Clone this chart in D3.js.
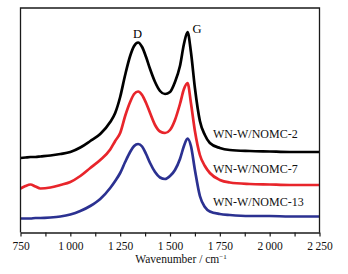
<!DOCTYPE html>
<html><head><meta charset="utf-8">
<script src="https://cdn.jsdelivr.net/npm/d3@7/dist/d3.min.js"></script>
<style>body{margin:0;background:#fff;}svg{display:block;}</style>
</head><body><svg id="c" width="348" height="274"></svg>
<script>
const wavenumbers = [750,775,800,825,850,900,950,1000,1050,1100,1150,1200,1225,1250,1275,1300,1320,1340,1360,1380,1400,1425,1450,1475,1500,1525,1550,1570,1588,1605,1625,1650,1675,1700,1750,1800,1900,2000,2100,2250];
const nomc2 = [74.5,75,75.5,75.5,76,77,78.5,80.5,85,91.5,98.5,110.5,119.5,135.5,157.5,176.5,186.5,190,185.5,175.5,163.5,150.5,141.5,138.5,140.5,150.5,166.5,188.5,200.5,180.5,144.5,111.5,97.5,89.5,84.5,82.5,81.5,81,80.5,80.5];
const nomc7 = [44,46.5,48,46,44,45,47.5,50.5,56.5,64.5,72.5,83,91.5,99.5,116.5,130.5,138.5,141,137.5,129.5,119.5,107.5,101,99.5,102.5,112.5,128.5,143.5,149.5,129.5,101.5,77.5,66.5,59.5,52.5,50,48.5,48,47.5,47.5];
const nomc13 = [14,14,14,14.5,14.5,15,16,18,21.5,26.5,33.5,44.5,51.5,59.5,70.5,80.5,86.5,88.5,86,78.5,69.5,60.5,55,53.5,56.5,62.5,73.5,86.5,94,86.5,62.5,36.5,25.5,21,18.5,17.5,16.5,16.5,16,16];
const seriesNames = ["WN-W/NOMC-2","WN-W/NOMC-7","WN-W/NOMC-13"];
const seriesColors = ["#000000","#e8252b","#2b3191"];
const majorTicks = [750,1000,1250,1500,1750,2000,2250];
const minorTicks = [875,1125,1375,1625,1875,2125];
const labelValues = [95, 60, 26.5];

const svg = d3.select("#c");
const L=20.5, R=319.5, T=8, B=232.5;
const x = d3.scaleLinear().domain([750,2250]).range([L,R]);
const y = d3.scaleLinear().domain([0,224.5]).range([B,T]);
const font = "'Liberation Serif','Times New Roman',serif";

const seriesData = [nomc2, nomc7, nomc13];
const line = d3.line().x((d,i)=>x(wavenumbers[i])).y(d=>y(d)).curve(d3.curveMonotoneX);
seriesData.forEach((s,k)=>{
  svg.append("path").attr("d", line(s)).attr("fill","none")
    .attr("stroke", seriesColors[k]).attr("stroke-width",2.7).attr("stroke-linejoin","round");
});

// frame
svg.append("path").attr("d",`M${L},${B}V${T}H${R}V${B}`).attr("fill","none").attr("stroke","#1a1a1a").attr("stroke-width",1.3);

// bottom axis
const ax = d3.axisBottom(x).tickValues(majorTicks).tickSize(4).tickSizeOuter(0)
  .tickFormat(d=>{const s=String(d); return s.length>3? s.slice(0,s.length-3)+"\u2009"+s.slice(-3) : s;});
const g = svg.append("g").attr("transform",`translate(0,${B})`).call(ax);
g.select(".domain").attr("stroke","#1a1a1a").attr("stroke-width",1.3);
g.selectAll(".tick line").attr("stroke","#1a1a1a").attr("stroke-width",1.2);
g.selectAll(".tick text").attr("font-family",font).attr("font-size",11.5).attr("fill","#111").attr("dy",null).attr("y",17);
const gm = svg.append("g").attr("transform",`translate(0,${B})`).call(d3.axisBottom(x).tickValues(minorTicks).tickSize(4).tickFormat(""));
gm.select(".domain").remove();
gm.selectAll(".tick line").attr("stroke","#1a1a1a").attr("stroke-width",1.2);

// axis title
const tt = svg.append("text").attr("x",181).attr("y",262.5).attr("text-anchor","middle")
  .attr("font-family",font).attr("font-size",11.5).attr("fill","#111");
tt.append("tspan").text("Wavenumber / cm");
tt.append("tspan").text("\u22121").attr("font-size",7).attr("dy",-4);

// peak labels
svg.append("text").attr("x",x(1337)).attr("y",37.5).attr("text-anchor","middle").attr("font-family",font).attr("font-size",12.5).text("D");
svg.append("text").attr("x",197).attr("y",32.5).attr("text-anchor","middle").attr("font-family",font).attr("font-size",12.5).text("G");

// series labels
labelValues.forEach((v,k)=>{
  svg.append("text").attr("x",213).attr("y",y(v)).attr("font-family",font).attr("font-size",12).attr("fill","#111").text(seriesNames[k]);
});
</script></body></html>
